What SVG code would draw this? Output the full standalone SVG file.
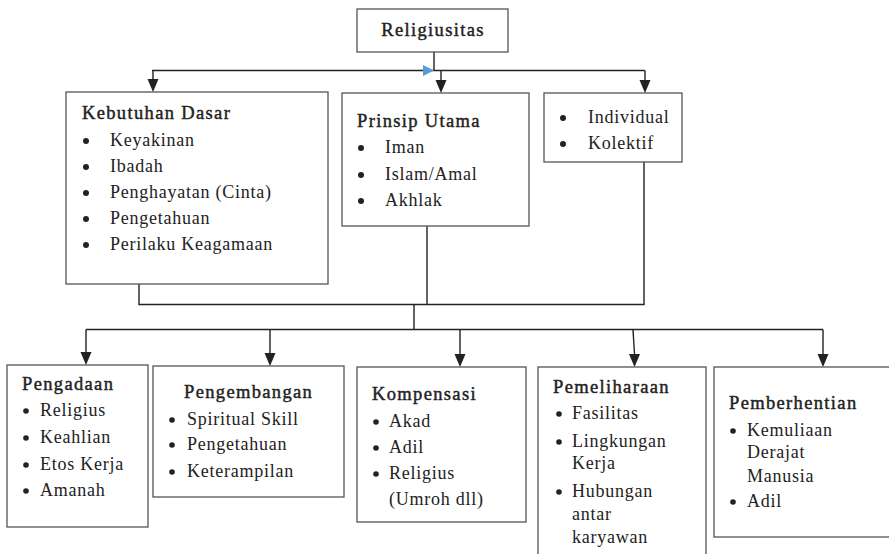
<svg xmlns="http://www.w3.org/2000/svg" width="889" height="554" viewBox="0 0 889 554">
<defs>
<style>
.box{fill:#fff;stroke:#555;stroke-width:1.3}
.ln{fill:none;stroke:#222;stroke-width:1.4}
text{font-family:"Liberation Serif","Times New Roman",serif;font-size:18px;fill:#222;letter-spacing:0.75px}
.h{font-size:18.5px;stroke:#222;stroke-width:0.45;letter-spacing:1.35px}
.b{fill:#222}
</style>
</defs>
<g id="connectors">
<path class="ln" d="M434,52 V70.5"/>
<path class="ln" d="M152,70.5 H645"/>
<path class="ln" d="M153,70.5 V80"/>
<polygon points="147.5,79 158.5,79 153,92" class="b"/>
<path class="ln" d="M441,70.5 V80"/>
<polygon points="435.5,80 446.5,80 441,93" class="b"/>
<path class="ln" d="M645,70.5 V80"/>
<polygon points="639.5,80 650.5,80 645,93" class="b"/>
<polygon points="423,65 434,70.5 423,76" fill="#5b9bd5"/>
<path class="ln" d="M139,284 V304.5 H644 V162"/>
<path class="ln" d="M427,226 V304.5"/>
<path class="ln" d="M414,304.5 V329.5"/>
<path class="ln" d="M86,329.5 H823"/>
<path class="ln" d="M86,329.5 V352"/>
<polygon points="80.5,352 91.5,352 86,365" class="b"/>
<path class="ln" d="M270,329.5 V353"/>
<polygon points="264.5,353 275.5,353 270,366" class="b"/>
<path class="ln" d="M460,329.5 V354"/>
<polygon points="454.5,354 465.5,354 460,367" class="b"/>
<path class="ln" d="M633,329.5 L634.5,354"/>
<polygon points="629,354 640,354 634.5,367" class="b"/>
<path class="ln" d="M823,329.5 V354"/>
<polygon points="817.5,354 828.5,354 823,367" class="b"/>
</g>
<g id="religiusitas">
<rect class="box" x="357" y="9" width="151" height="43"/>
<text class="h" x="433" y="36" text-anchor="middle">Religiusitas</text>
</g>
<g id="kebutuhan-dasar">
<rect class="box" x="66" y="92" width="262" height="192"/>
<text class="h" x="82" y="119">Kebutuhan Dasar</text>
<circle class="b" cx="86" cy="141" r="3"/><text x="110" y="146">Keyakinan</text>
<circle class="b" cx="86" cy="167" r="3"/><text x="110" y="172">Ibadah</text>
<circle class="b" cx="86" cy="193" r="3"/><text x="110" y="198">Penghayatan (Cinta)</text>
<circle class="b" cx="86" cy="219" r="3"/><text x="110" y="224">Pengetahuan</text>
<circle class="b" cx="86" cy="245" r="3"/><text x="110" y="250">Perilaku Keagamaan</text>
</g>
<g id="prinsip-utama">
<rect class="box" x="342" y="93" width="187" height="133"/>
<text class="h" x="357" y="127">Prinsip Utama</text>
<circle class="b" cx="361" cy="148" r="3"/><text x="385" y="153">Iman</text>
<circle class="b" cx="361" cy="175" r="3"/><text x="385" y="180">Islam/Amal</text>
<circle class="b" cx="361" cy="201" r="3"/><text x="385" y="206">Akhlak</text>
</g>
<g id="individual">
<rect class="box" x="544" y="93" width="138" height="69"/>
<circle class="b" cx="563" cy="118" r="3"/><text x="588" y="123">Individual</text>
<circle class="b" cx="563" cy="144" r="3"/><text x="588" y="149">Kolektif</text>
</g>
<g id="pengadaan">
<rect class="box" x="7" y="365" width="141" height="162"/>
<text class="h" x="22" y="390">Pengadaan</text>
<circle class="b" cx="26" cy="411" r="2.8"/><text x="40" y="416">Religius</text>
<circle class="b" cx="26" cy="438" r="2.8"/><text x="40" y="443">Keahlian</text>
<circle class="b" cx="26" cy="465" r="2.8"/><text x="40" y="470">Etos Kerja</text>
<circle class="b" cx="26" cy="491" r="2.8"/><text x="40" y="496">Amanah</text>
</g>
<g id="pengembangan">
<rect class="box" x="153" y="366" width="191" height="131"/>
<text class="h" x="184" y="398">Pengembangan</text>
<circle class="b" cx="172" cy="420" r="2.8"/><text x="187" y="425">Spiritual Skill</text>
<circle class="b" cx="172" cy="445" r="2.8"/><text x="187" y="450">Pengetahuan</text>
<circle class="b" cx="172" cy="472" r="2.8"/><text x="187" y="477">Keterampilan</text>
</g>
<g id="kompensasi">
<rect class="box" x="357" y="367" width="169" height="155"/>
<text class="h" x="372" y="400">Kompensasi</text>
<circle class="b" cx="376" cy="422" r="2.8"/><text x="389" y="427">Akad</text>
<circle class="b" cx="376" cy="448" r="2.8"/><text x="389" y="453">Adil</text>
<circle class="b" cx="376" cy="474" r="2.8"/><text x="389" y="479">Religius</text>
<text x="389" y="505">(Umroh dll)</text>
</g>
<g id="pemeliharaan">
<rect class="box" x="538" y="367" width="168" height="200"/>
<text class="h" x="553" y="393">Pemeliharaan</text>
<circle class="b" cx="559" cy="414" r="2.8"/><text x="572" y="419">Fasilitas</text>
<circle class="b" cx="559" cy="442" r="2.8"/><text x="572" y="447">Lingkungan</text>
<text x="572" y="469">Kerja</text>
<circle class="b" cx="559" cy="492" r="2.8"/><text x="572" y="497">Hubungan</text>
<text x="572" y="520">antar</text>
<text x="572" y="543">karyawan</text>
</g>
<g id="pemberhentian">
<rect class="box" x="714" y="367" width="190" height="170"/>
<text class="h" x="729" y="409">Pemberhentian</text>
<circle class="b" cx="733" cy="431" r="2.8"/><text x="747" y="436">Kemuliaan</text>
<text x="747" y="458">Derajat</text>
<text x="747" y="482">Manusia</text>
<circle class="b" cx="733" cy="502" r="2.8"/><text x="747" y="507">Adil</text>
</g>
</svg>
